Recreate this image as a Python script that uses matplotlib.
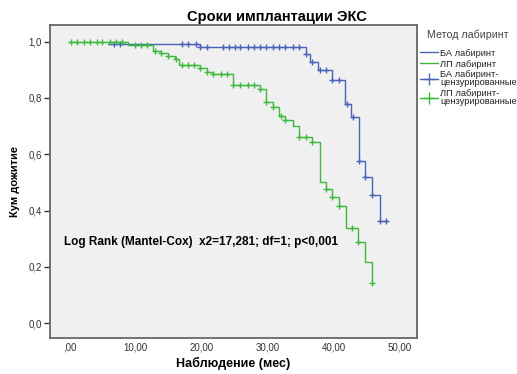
import numpy as np
import matplotlib
matplotlib.use("Agg")
import matplotlib.pyplot as plt
from matplotlib.lines import Line2D

plt.rcParams['font.family'] = ['Liberation Sans', 'DejaVu Sans']

# Kaplan-Meier steps: time of event (months) and survival after it
ba_times = [5.9, 19.7, 35.8, 36.5, 37.7, 39.7, 41.8, 42.7, 43.8, 44.7, 45.8, 47.0]
ba_surv = [0.993, 0.981, 0.956, 0.926, 0.898, 0.865, 0.779, 0.733, 0.577, 0.520, 0.455, 0.363]
ba_end = 47.9
ba_censored = [6.7, 7.7, 17.1, 18.0, 19.1, 19.8, 20.9, 23.2, 24.1, 25.0, 25.9, 27.0,
               27.9, 28.9, 29.8, 30.9, 31.8, 32.7, 33.8, 34.8, 35.9, 36.8, 38.0,
               38.9, 39.8, 40.8, 42.0, 42.9, 43.8, 44.7, 45.8, 47.0, 47.9]

lp_times = [0.0, 8.9, 12.7, 13.8, 15.0, 16.0, 16.6, 19.8, 20.9, 21.7, 24.7, 28.8,
            29.7, 30.8, 31.7, 32.6, 33.8, 34.8, 36.7, 37.9, 38.8, 39.8, 40.8,
            41.9, 43.7, 44.8, 45.9]
lp_surv = [1.0, 0.989, 0.968, 0.958, 0.950, 0.940, 0.918, 0.906, 0.892, 0.885, 0.845,
           0.833, 0.784, 0.768, 0.737, 0.720, 0.700, 0.663, 0.645, 0.503, 0.477,
           0.449, 0.417, 0.337, 0.287, 0.216, 0.143]
lp_end = 45.9
lp_censored = [0.3, 1.2, 2.2, 3.1, 4.1, 5.0, 6.1, 7.0, 7.9, 9.9, 10.9, 11.8, 13.0,
               13.9, 15.0, 16.1, 17.1, 18.0, 18.8, 19.8, 20.9, 21.8, 22.9, 23.9,
               24.8, 25.9, 27.0, 27.9, 28.9, 29.8, 30.9, 32.0, 32.7, 34.8, 35.9,
               36.8, 38.8, 39.8, 40.8, 42.8, 43.7, 45.9]

stat_text = "Log Rank (Mantel-Cox)  x2=17,281; df=1; p<0,001"

blue = '#4a62b8'
green = '#3dba3d'


def surv_at(times, surv, t):
    idx = np.searchsorted(times, t, side='right') - 1
    return np.asarray(surv)[np.clip(idx, 0, len(surv) - 1)]


fig = plt.figure(figsize=(5.17, 3.74), dpi=100)
ax = fig.add_axes([0.0967, 0.0963, 0.7093, 0.8369])
ax.set_facecolor('#f0f0f0')

for times, surv, end, cens, col in [(ba_times, ba_surv, ba_end, ba_censored, blue),
                                    (lp_times, lp_surv, lp_end, lp_censored, green)]:
    xs = list(times) + [end]
    ys = list(surv) + [surv[-1]]
    ax.step(xs, ys, where='post', color=col, lw=1.0)
    cy = surv_at(times, surv, np.array(cens))
    ax.plot(cens, cy, ls='none', marker='+', ms=5, mew=1.0, color=col)

ax.set_xlim(-2.95, 52.6)
ax.set_ylim(-0.052, 1.059)
ax.set_xticks([0, 10, 20, 30, 40, 50])
ax.set_xticklabels([',00', '10,00', '20,00', '30,00', '40,00', '50,00'])
ax.set_yticks([0, 0.2, 0.4, 0.6, 0.8, 1.0])
ax.set_yticklabels(['0,0', '0,2', '0,4', '0,6', '0,8', '1,0'])
ax.tick_params(axis='x', length=0, pad=3.5, labelsize=7, colors='#333333')
ax.tick_params(axis='y', length=4, width=1, pad=2, labelsize=7, colors='#333333')
for sp in ax.spines.values():
    sp.set_color('#666666')
    sp.set_linewidth(1.3)

ax.set_xlabel('Наблюдение (мес)', fontsize=9, fontweight='bold', labelpad=3)
ax.set_ylabel('Кум дожитие', fontsize=8, fontweight='bold', labelpad=6)
fig.text(0.535, 0.955, 'Сроки имплантации ЭКС', ha='center', va='center',
         fontsize=10.5, fontweight='bold')

ax.text(-0.9, 0.29, stat_text, fontsize=8.5, fontweight='bold', va='center', ha='left')

handles = [Line2D([], [], color=blue, lw=1),
           Line2D([], [], color=green, lw=1),
           Line2D([], [], color=blue, lw=1, marker='+', ms=8, mew=1),
           Line2D([], [], color=green, lw=1, marker='+', ms=8, mew=1)]
labels = ['БА лабиринт', 'ЛП лабиринт', 'БА лабиринт-\nцензурированные',
          'ЛП лабиринт-\nцензурированные']
leg = ax.legend(handles, labels, title='Метод лабиринт', loc='upper left',
                bbox_to_anchor=(0.99, 1.005), frameon=False, fontsize=6.7,
                title_fontsize=7.7, handlelength=2.0, handletextpad=0.2,
                labelspacing=0.2, borderaxespad=0.3)
leg._legend_box.align = 'center'
leg._legend_box.sep = 6
leg.get_title().set_color('#444444')
for t in leg.get_texts():
    t.set_color('#222222')
    t.set_linespacing(0.85)

fig.savefig('out.png', dpi=100)
